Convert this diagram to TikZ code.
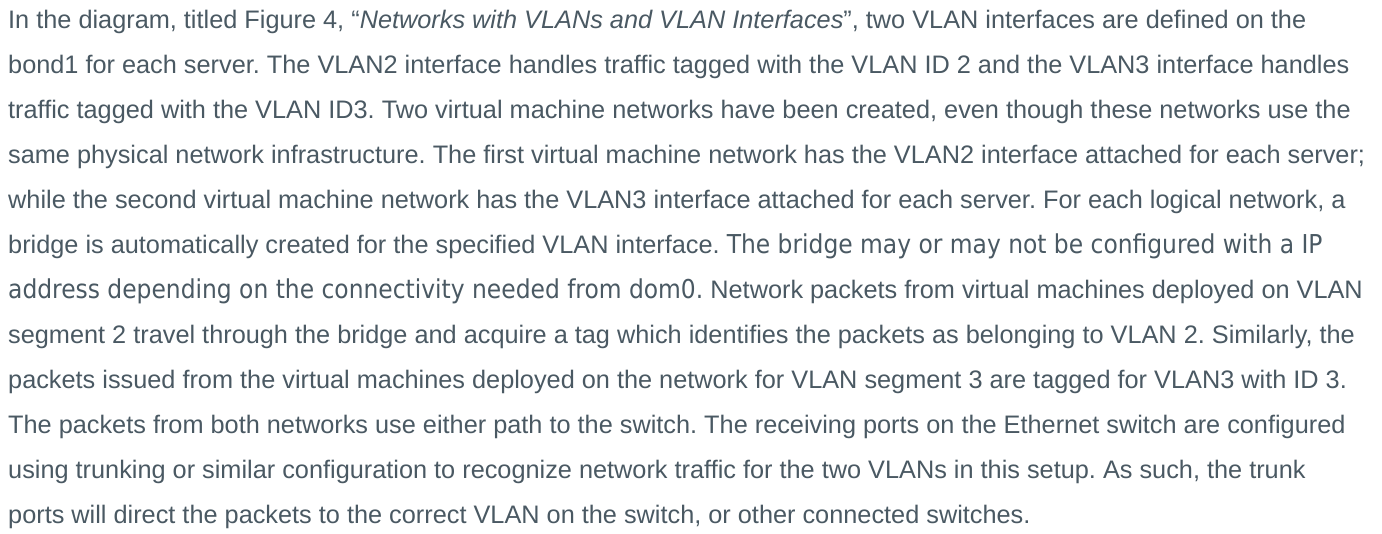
\documentclass[tikz,border=0pt]{standalone}
\usepackage{fontspec}
\setmainfont{Liberation Sans}
\newfontfamily\tahomafont{DejaVu Sans Condensed}
\definecolor{bodytext}{RGB}{74,89,99}
\frenchspacing
\tikzset{
  textline/.style={anchor=base west, inner sep=0pt, text=bodytext,
    font=\fontsize{25.3}{30}\selectfont\frenchspacing},
}
\newcommand{\tah}[1]{{\tahomafont\fontsize{26}{30}\selectfont\frenchspacing #1}}
\begin{document}
\begin{tikzpicture}[x=1pt,y=-1pt]
\useasboundingbox (0,0) rectangle (1382,533);
\fill[white] (0,0) rectangle (1382,533);
\node[textline] (l1) at (8,28) {In the diagram, titled Figure 4, “\textit{Networks with VLANs and VLAN Interfaces}”, two VLAN interfaces are defined on the};
\node[textline] (l2) at (8,73) {bond1 for each server. The VLAN2 interface handles traffic tagged with the VLAN ID 2 and the VLAN3 interface handles};
\node[textline] (l3) at (8,118) {traffic tagged with the VLAN ID3. Two virtual machine networks have been created, even though these networks use the};
\node[textline] (l4) at (8,163) {same physical network infrastructure. The first virtual machine network has the VLAN2 interface attached for each server;};
\node[textline] (l5) at (8,208) {while the second virtual machine network has the VLAN3 interface attached for each server. For each logical network, a};
\node[textline] (l6) at (8,253) {bridge is automatically created for the specified VLAN interface. \tah{The bridge may or may not be configured with a IP}};
\node[textline] (l7) at (8,298) {\tah{address depending on the connectivity needed from dom0.} Network packets from virtual machines deployed on VLAN};
\node[textline] (l8) at (8,343) {segment 2 travel through the bridge and acquire a tag which identifies the packets as belonging to VLAN 2. Similarly, the};
\node[textline] (l9) at (8,388) {packets issued from the virtual machines deployed on the network for VLAN segment 3 are tagged for VLAN3 with ID 3.};
\node[textline] (l10) at (8,433) {The packets from both networks use either path to the switch. The receiving ports on the Ethernet switch are configured};
\node[textline] (l11) at (8,478) {using trunking or similar configuration to recognize network traffic for the two VLANs in this setup. As such, the trunk};
\node[textline] (l12) at (8,523) {ports will direct the packets to the correct VLAN on the switch, or other connected switches.};
\end{tikzpicture}
\end{document}
